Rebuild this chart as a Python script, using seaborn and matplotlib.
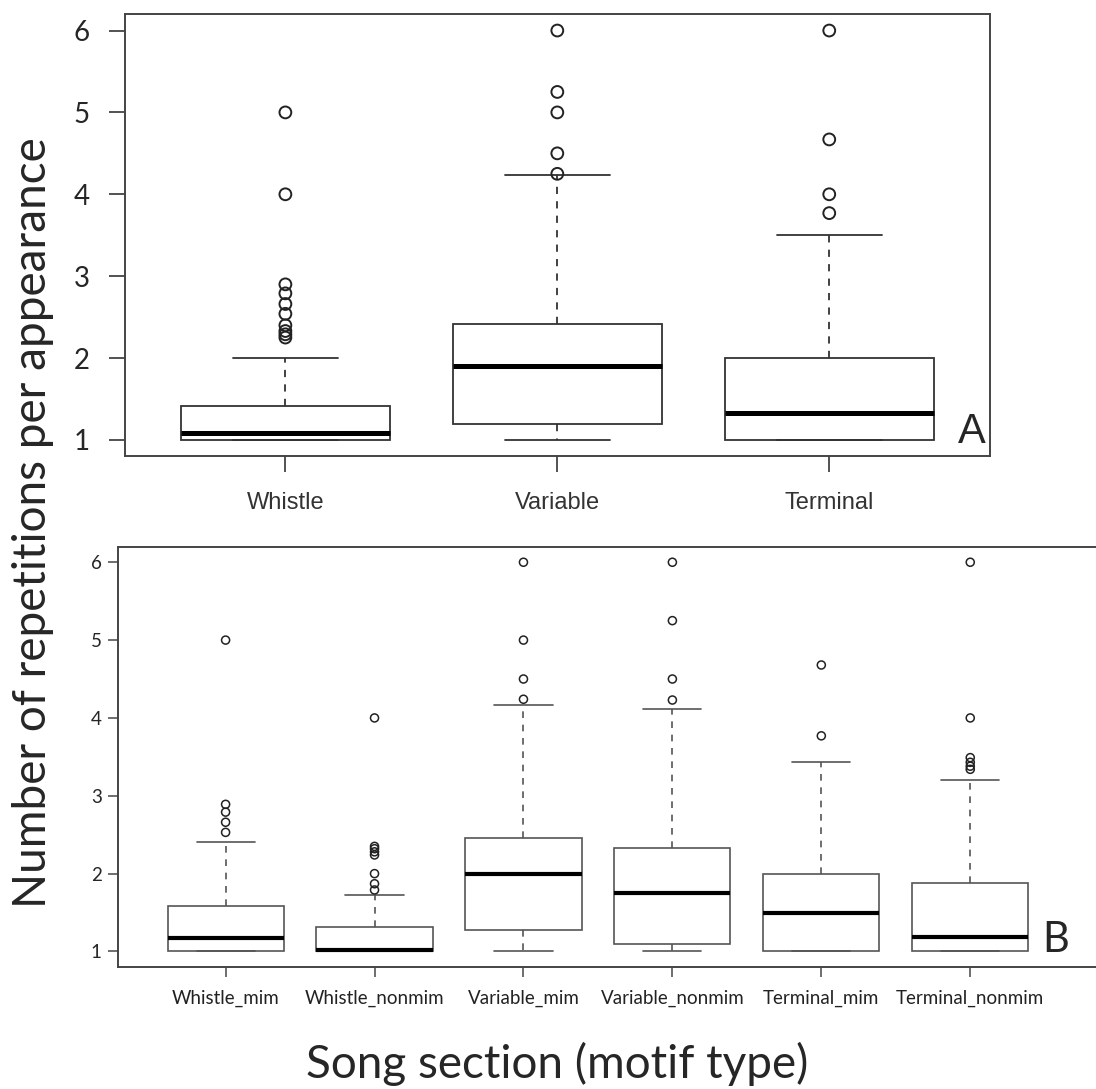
import numpy as np
import pandas as pd
import matplotlib
matplotlib.use("Agg")
import matplotlib.pyplot as plt
import seaborn as sns

# Panel A: repetitions per appearance by song section
sections = ["Whistle", "Variable", "Terminal"]
sec_low = [1.0, 1.0, 1.0]
sec_q1 = [1.0, 1.19, 1.0]
sec_median = [1.09, 1.90, 1.33]
sec_q3 = [1.42, 2.41, 2.0]
sec_high = [2.0, 4.23, 3.50]
sec_outliers = [
    [2.25, 2.29, 2.33, 2.40, 2.54, 2.66, 2.79, 2.90, 4.0, 5.0],
    [4.25, 4.5, 5.0, 5.25, 6.0],
    [3.77, 4.0, 4.67, 6.0],
]

# Panel B: split by motif type (mimic / non-mimic)
motifs = ["Whistle_mim", "Whistle_nonmim", "Variable_mim",
          "Variable_nonmim", "Terminal_mim", "Terminal_nonmim"]
mot_low = [1.0, 1.0, 1.0, 1.0, 1.0, 1.0]
mot_q1 = [1.0, 1.0, 1.28, 1.10, 1.0, 1.0]
mot_median = [1.17, 1.02, 2.0, 1.75, 1.50, 1.18]
mot_q3 = [1.58, 1.32, 2.46, 2.33, 2.0, 1.88]
mot_high = [2.40, 1.72, 4.17, 4.12, 3.44, 3.20]
mot_outliers = [
    [2.53, 2.66, 2.79, 2.89, 5.0],
    [1.79, 1.87, 2.0, 2.24, 2.28, 2.32, 2.35, 4.0],
    [4.24, 4.5, 5.0, 6.0],
    [4.23, 4.5, 5.25, 6.0],
    [3.77, 4.68],
    [3.34, 3.38, 3.43, 3.49, 4.0, 6.0],
]

y_ticks = [1, 2, 3, 4, 5, 6]


def summary_frame(names, low, q1, med, q3, high):
    rows = []
    for i, n in enumerate(names):
        for v in (low[i], q1[i], med[i], q3[i], high[i]):
            rows.append((n, v))
    return pd.DataFrame(rows, columns=["group", "value"])


def outlier_frame(names, outs):
    rows = [(n, v) for n, vals in zip(names, outs) for v in vals]
    return pd.DataFrame(rows, columns=["group", "value"])


sns.set_theme(style="ticks")
plt.rcParams["font.family"] = ["Lato", "DejaVu Sans"]

fig = plt.figure(figsize=(10.96, 10.89), dpi=100)
ax_a = fig.add_axes([0.114, 0.581, 0.789, 0.406])
ax_b = fig.add_axes([0.108, 0.112, 0.905, 0.386])


def draw_panel(ax, names, low, q1, med, q3, high, outs, width, line_col,
               lw, med_lw, flier_size, flier_lw):
    box_df = summary_frame(names, low, q1, med, q3, high)
    sns.boxplot(
        data=box_df, x="group", y="value", order=names, ax=ax,
        whis=(0, 100), width=width, color="white", saturation=1,
        linecolor=line_col, linewidth=lw, showfliers=False,
        medianprops={"color": "black", "linewidth": med_lw},
        whiskerprops={"linestyle": (0, (4, 4)), "color": line_col},
        capprops={"color": line_col},
    )
    n_before = len(ax.collections)
    out_df = outlier_frame(names, outs)
    sns.stripplot(
        data=out_df, x="group", y="value", order=names, ax=ax,
        jitter=False, size=flier_size, color="black",
        edgecolor="#222222", linewidth=flier_lw,
    )
    for coll in ax.collections[n_before:]:
        coll.set_facecolor("none")
        coll.set_edgecolor("#222222")
    ax.set_xlabel("")
    ax.set_ylabel("")
    ax.set_ylim(0.8, 6.2)
    ax.set_yticks(y_ticks)
    for sp in ax.spines.values():
        sp.set_visible(True)
        sp.set_color("#444444")
        sp.set_linewidth(1.4)


draw_panel(ax_a, sections, sec_low, sec_q1, sec_median, sec_q3, sec_high,
           sec_outliers, 0.77, "#333333", 1.3, 3.6, 8.5, 1.4)
ax_a.set_xlim(-0.59, 2.59)
ax_a.tick_params(axis="both", length=11.5, width=1.3, color="#444444")
ax_a.tick_params(axis="y", pad=14, labelsize=20)
ax_a.tick_params(axis="x", pad=14, labelsize=17, labelcolor="#333333")
for lab in ax_a.get_xticklabels():
    lab.set_family(["Liberation Sans", "DejaVu Sans"])

draw_panel(ax_b, motifs, mot_low, mot_q1, mot_median, mot_q3, mot_high,
           mot_outliers, 0.78, "#555555", 1.2, 3.0, 5.8, 1.1)
ax_b.set_xlim(-0.72, 5.94)
ax_b.tick_params(axis="both", length=7, width=1.2, color="#555555")
ax_b.tick_params(axis="y", pad=5, labelsize=13.5)
ax_b.tick_params(axis="x", pad=9, labelsize=13.5, labelcolor="#222222")

# panel letters
fig.text(0.899, 0.593, "A", ha="right", va="baseline", fontsize=30,
         family=["Liberation Sans", "DejaVu Sans"])
fig.text(0.951, 0.126, "B", ha="left", va="baseline", fontsize=30)

# shared axis titles
fig.text(0.030, 0.52, "Number of repetitions per appearance", rotation=90,
         ha="center", va="center", fontsize=33)
fig.text(0.508, 0.010, "Song section (motif type)", ha="center",
         va="baseline", fontsize=33)

fig.savefig("out.png", dpi=100, facecolor="white")
